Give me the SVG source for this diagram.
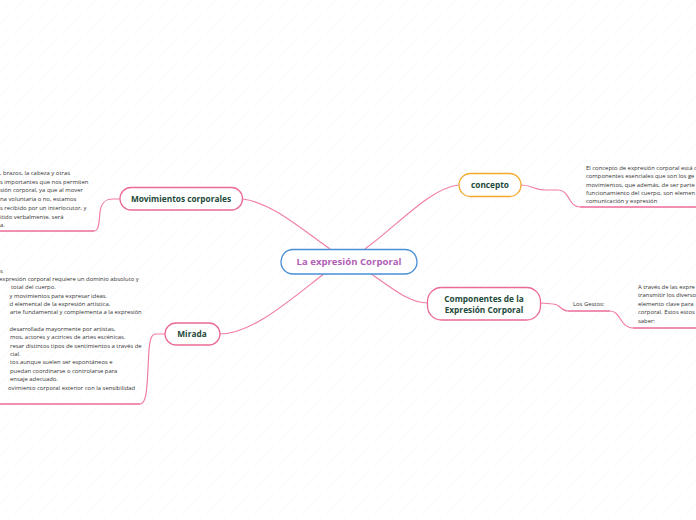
<svg xmlns="http://www.w3.org/2000/svg" width="696" height="520" viewBox="0 0 696 520">
<defs>
<pattern id="bg" width="12" height="12" patternUnits="userSpaceOnUse">
<line x1="2" y1="10" x2="10" y2="2" stroke="#f3f3f3" stroke-width="0.6"/>
</pattern>
<style>
.node{fill:#fff;stroke:#ec6a98;stroke-width:1.3}
.nt{font-family:"Open Sans","DejaVu Sans",sans-serif;font-weight:bold;font-size:8.3px;fill:#1d4a3a;text-anchor:middle}
.st{font-family:"Open Sans","DejaVu Sans",sans-serif;font-size:5.9px;fill:#333}
.c{fill:none;stroke:#f07ea6;stroke-width:1.2}
.u{fill:none;stroke:#ec6a98;stroke-width:1.6}
</style>
</defs>
<rect width="696" height="520" fill="#fff"/>
<rect width="696" height="520" fill="url(#bg)"/>
<g id="connectors">
<path class="c" d="M330,249 C300,228 272,203 243,199"/>
<path class="c" d="M365,249 C398,225 430,188 459,185"/>
<path class="c" d="M370,273 C394,290 410,303 428,303"/>
<path class="c" d="M325,273 C290,300 252,334 220,334"/>
<path class="c" d="M521,185 C533,185 533,190 545,190 L558,190 C570,190 568,207 580,207"/>
<path class="u" d="M580,207 L696,207"/>
<path class="c" d="M541,303 L553,304 C561,304 560,311 568,311"/>
<path class="u" d="M568,311 L610,311"/>
<path class="c" d="M610,311 C621,311 620,328 633,328"/>
<path class="u" d="M633,328 L696,328"/>
<path class="c" d="M120,199 L113,199 C104,199 101,204 100,212 C99,222 99,231 94,231"/>
<path class="u" d="M94,231 L0,231"/>
<path class="c" d="M165,334 L156,334 C151,334 150,340 149,350 C147,380 148,404 140,404"/>
<path class="u" d="M140,404 L0,404"/>
</g>
<g id="center">
<rect x="281" y="249.5" width="136" height="24.5" rx="12" fill="#fff" stroke="#4a8fd6" stroke-width="1.3"/>
<text x="349" y="264.8" font-family="'Open Sans','DejaVu Sans',sans-serif" font-weight="bold" font-size="9.6" fill="#b160b8" text-anchor="middle">La expresión Corporal</text>
</g>
<g id="concepto">
<rect x="459" y="173.5" width="62" height="23" rx="11.5" fill="#fff" stroke="#f5a82a" stroke-width="1.3"/>
<text class="nt" x="490" y="188">concepto</text>
</g>
<g id="concepto-texto">
<text class="st" x="586" y="170">El concepto de expresión corporal está c</text>
<text class="st" x="586" y="178.3">componentes esenciales que son los ge</text>
<text class="st" x="586" y="186.6">movimientos, que además, de ser parte</text>
<text class="st" x="586" y="195">funcionamiento del cuerpo, son elemen</text>
<text class="st" x="586" y="203.3">comunicación y expresión</text>
</g>
<g id="componentes">
<rect class="node" x="427.5" y="287.5" width="113" height="32.5" rx="14"/>
<text class="nt" x="484" y="302">Componentes de la</text>
<text class="nt" x="484" y="313">Expresión Corporal</text>
</g>
<g id="gestos">
<text class="st" x="573" y="306">Los Gestos:</text>
</g>
<g id="gestos-texto">
<text class="st" x="638" y="289">A través de las expre</text>
<text class="st" x="638" y="297.4">transmitir los diversos</text>
<text class="st" x="638" y="305.8">elemento clave para</text>
<text class="st" x="638" y="314.2">corporal. Estos estos</text>
<text class="st" x="638" y="322.6">saber:</text>
</g>
<g id="movimientos">
<rect class="node" x="120" y="187.5" width="122.5" height="22.5" rx="11"/>
<text class="nt" x="181" y="201.7">Movimientos corporales</text>
</g>
<g id="movimientos-texto">
<text class="st" x="0" y="175">, brazos, la cabeza y otras</text>
<text class="st" x="0" y="183.7">s importantes que nos permiten</text>
<text class="st" x="0" y="192.4">sión corporal, ya que al mover</text>
<text class="st" x="0" y="201.1">na voluntaria o no, estamos</text>
<text class="st" x="0" y="209.8">s recibido por un interlocutor, y</text>
<text class="st" x="0" y="218.5">itido verbalmente, será</text>
<text class="st" x="0" y="227.2">a.</text>
</g>
<g id="mirada">
<rect class="node" x="165" y="323" width="55" height="22" rx="11"/>
<text class="nt" x="192" y="337">Mirada</text>
</g>
<g id="mirada-texto">
<text class="st" x="0" y="272.5">s</text>
<text class="st" x="-1" y="280.9">expresión corporal requiere un dominio absoluto y</text>
<text class="st" x="11" y="289.2">total del cuerpo.</text>
<text class="st" x="9.5" y="297.6">y movimientos para expresar ideas.</text>
<text class="st" x="9.5" y="305.9">d elemental de la expresión artística.</text>
<text class="st" x="10" y="314.3">arte fundamental y complementa a la expresión</text>
<text class="st" x="9.5" y="331">desarrollada mayormente por artistas,</text>
<text class="st" x="10" y="339.4">mos, actores y actrices de artes escénicas.</text>
<text class="st" x="10" y="347.7">resar distintos tipos de sentimientos a través de</text>
<text class="st" x="10" y="356.1">cial.</text>
<text class="st" x="10" y="364.4">tos aunque suelen ser espontáneos e</text>
<text class="st" x="10" y="372.8">puedan coordinarse o controlarse para</text>
<text class="st" x="10" y="381.1">ensaje adecuado.</text>
<text class="st" x="8" y="389.5">ovimiento corporal exterior con la sensibilidad</text>
</g>
</svg>
